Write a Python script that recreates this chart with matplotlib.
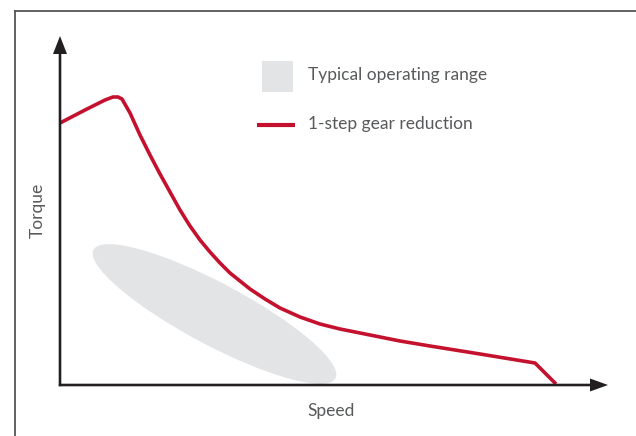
import matplotlib
matplotlib.use("Agg")
import matplotlib.pyplot as plt
from matplotlib.patches import Ellipse, Rectangle
from matplotlib.lines import Line2D

# Data (speed / torque in arbitrary units, origin at axes corner)
speed = [0, 25, 45, 53, 58, 62, 70, 80, 90, 100, 110, 120, 130, 140, 150, 160,
         170, 180, 190, 205, 220, 240, 260, 280, 300, 320, 340, 370, 420, 475, 496]
torque = [262, 275, 285, 288, 288, 286, 272, 250, 230, 211, 193, 175, 159, 145, 133, 122,
          112, 104, 96, 86, 77, 68, 61, 56, 52, 48, 44, 39, 31, 22, 1]

# Typical operating range ellipse (center speed, center torque, length, thickness, tilt)
range_center = (154.5, 71)
range_size = (274, 62)
range_angle = -28

series_label = "1-step gear reduction"
range_label = "Typical operating range"
x_label = "Speed"
y_label = "Torque"

RED = "#c3112e"
GREY_FILL = "#e3e4e6"
AX_COL = "#231f20"
TXT = "#58595b"

plt.rcParams['font.family'] = ['Lato', 'DejaVu Sans']
FS = 12.5

fig = plt.figure(figsize=(6.36, 4.36), dpi=100)
ax = fig.add_axes([0, 0, 1, 1])
ax.set_xlim(-60, 576)
ax.set_ylim(-51, 385)
ax.set_aspect('equal')
ax.axis('off')

# outer frame (left and top)
fig.add_artist(Line2D([15/636, 15/636], [0, 1 - 11/436], color="#555555", lw=1.3,
                      transform=fig.transFigure))
fig.add_artist(Line2D([15/636, 1], [1 - 11/436, 1 - 11/436], color="#555555", lw=1.3,
                      transform=fig.transFigure))

# operating range
ax.add_patch(Ellipse(range_center, range_size[0], range_size[1], angle=range_angle,
                     facecolor=GREY_FILL, edgecolor='none', zorder=1))

# torque curve
ax.plot(speed, torque, color=RED, lw=2.6, solid_joinstyle='round',
        solid_capstyle='butt', zorder=3)

# axes arrows
ax.arrow(-1.2, 0, 549.2, 0, width=2.6, head_width=13, head_length=18,
         length_includes_head=True, fc=AX_COL, ec='none', zorder=4)
ax.arrow(0, -1.2, 0, 350.2, width=2.6, head_width=14, head_length=18,
         length_includes_head=True, fc=AX_COL, ec='none', zorder=4)

# axis labels
ax.text(271, -26, x_label, ha='center', va='center', fontsize=FS, color=TXT)
ax.text(-22, 175, y_label, ha='center', va='center', fontsize=FS, color=TXT,
        rotation=90)

# legend
ax.add_patch(Rectangle((202, 293), 31, 31, facecolor=GREY_FILL, edgecolor='none'))
ax.plot([197, 235], [260, 260], color=RED, lw=3.0, solid_capstyle='butt')
ax.text(248, 310, range_label, ha='left', va='center', fontsize=FS, color=TXT)
ax.text(248, 261, series_label, ha='left', va='center', fontsize=FS, color=TXT)

fig.savefig("out.png", dpi=100)
